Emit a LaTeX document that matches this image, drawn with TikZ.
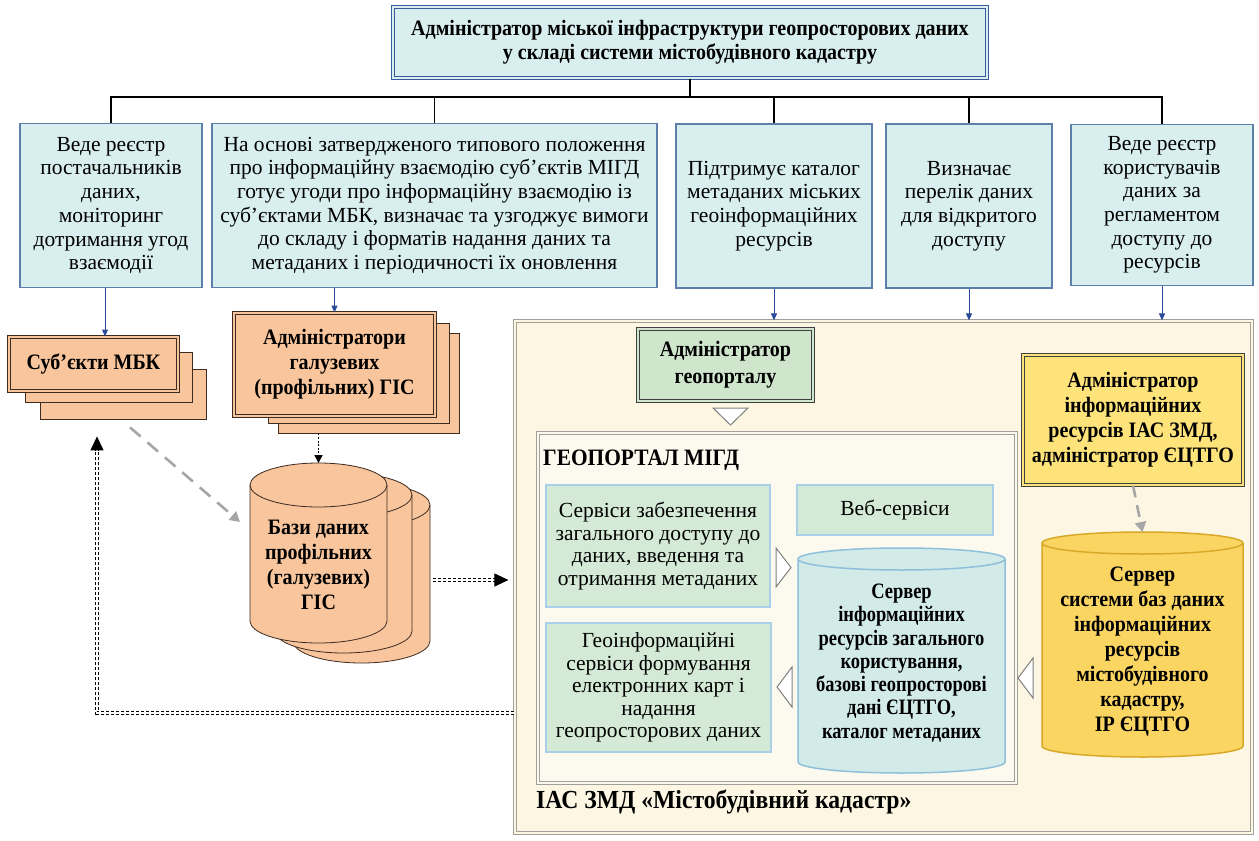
\documentclass[tikz,border=0pt]{standalone}
\usepackage{fontspec}
\setmainfont{Liberation Serif}
\newfontfamily\narrowbf{Liberation Serif}[FakeStretch=0.91]
\newfontfamily\narrowerbf{Liberation Serif}[FakeStretch=0.84]
\usepackage{xcolor}
\usetikzlibrary{arrows.meta,calc}

\definecolor{cyanfill}{HTML}{D9EEEE}
\definecolor{boxblue}{HTML}{5C80A8}
\definecolor{topblue}{HTML}{3A5AA0}
\definecolor{arrowblue}{HTML}{2A4A9A}
\definecolor{peach}{HTML}{F8C59C}
\definecolor{brown}{HTML}{3D2A20}
\definecolor{cream}{HTML}{FCF6E2}
\definecolor{paper}{HTML}{FCF9EE}
\definecolor{frame}{HTML}{A0A09A}
\definecolor{mint}{HTML}{D4EAD6}
\definecolor{skyline}{HTML}{A8D0E8}
\definecolor{aqua}{HTML}{D2EBE8}
\definecolor{aquaedge}{HTML}{8EC0DC}
\definecolor{lemon}{HTML}{FDE37A}
\definecolor{gold}{HTML}{FBD561}
\definecolor{goldedge}{HTML}{D8A928}
\definecolor{sage}{HTML}{CFE5CC}

% name, style, centre x, top y, half width, height, end radius
\newcommand{\drum}[7]{%
	\filldraw[#2] (#3-#5,#4+#7) -- (#3-#5,#4+#6-#7) arc[start angle=180,end angle=0,x radius=#5,y radius=#7] -- (#3+#5,#4+#7) arc[start angle=0,end angle=-180,x radius=#5,y radius=#7] -- cycle;
	\draw[#2, fill=none] (#3-#5,#4+#7) arc[start angle=180,end angle=0,x radius=#5,y radius=#7];
	\node[minimum width=2*#5, minimum height=#6, inner sep=0pt, outer sep=0pt] (#1) at (#3,#4+#6/2) {};
}

\tikzset{
	txt/.style={font=\fontsize{21.5}{23.7}\selectfont, align=center, inner sep=2pt},
	btxt/.style={align=center, inner sep=2pt, font={\narrowbf\bfseries\fontsize{22}{25}\selectfont}},
	topbox/.style={btxt, font={\narrowbf\bfseries\fontsize{22}{24}\selectfont}, draw=topblue, fill=cyanfill, line width=1.2pt, double=cyanfill, double distance=1.8pt},
	taskbox/.style={txt, draw=boxblue, fill=cyanfill, line width=1.2pt},
	peachbox/.style={btxt, draw=brown, fill=peach, line width=1pt, double=peach, double distance=1.8pt},
	peachback/.style={draw=brown, fill=peach, line width=0.8pt},
	peachdrum/.style={draw=brown, fill=peach, line width=0.8pt},
	coredrum/.style={draw=aquaedge, fill=aqua, line width=1.5pt},
	golddrum/.style={draw=goldedge, fill=gold, line width=1.5pt},
	mintbox/.style={txt, font=\fontsize{21.5}{22.5}\selectfont, draw=skyline, fill=mint, line width=1.5pt},
	admbox/.style={btxt, draw=black!75, line width=1pt, double distance=1.8pt},
	framebox/.style={draw=frame, line width=1.2pt, double distance=1.8pt},
	link/.style={arrowblue, line width=1pt, -{Triangle[length=7pt,width=6pt]}},
	tree/.style={black, line width=1.6pt},
	grayarrow/.style={gray!70, line width=2.6pt, dash pattern=on 14pt off 9pt, -{Triangle[length=10pt,width=11pt]}},
	dotarrow/.style={black, line width=1.6pt, dash pattern=on 2pt off 1.6pt, -{Triangle[length=8pt,width=8pt]}},
	dblarrow/.style={black, line width=1.1pt, double=white, double distance=1.6pt, dash pattern=on 3pt off 2pt, -{Triangle[length=14pt,width=13pt]}},
	opentri/.style={draw=gray, fill=white, line width=1pt, line join=miter}
}

\begin{document}
\begin{tikzpicture}[x=1pt,y=-1pt]
	\useasboundingbox (0,0) rectangle (1259,841);
	\fill[white] (0,0) rectangle (1259,841);
	\node[topbox, minimum width=594, minimum height=71] (top) at (690,42.5) {Адміністратор міської інфраструктури геопросторових даних\\у складі системи містобудівного кадастру};
	\node[taskbox, minimum width=182, minimum height=164] (t1) at (111,205.5) {Веде реєстр\\постачальників\\даних,\\моніторинг\\дотримання угод\\взаємодії};
	\node[taskbox, minimum width=445, minimum height=164] (t2) at (434.5,205.5) {На основі затвердженого типового положення\\про інформаційну взаємодію суб’єктів МІГД\\готує угоди про інформаційну взаємодію із\\суб’єктами МБК, визначає та узгоджує вимоги\\до складу і форматів надання даних та\\метаданих і періодичності їх оновлення};
	\node[taskbox, minimum width=196, minimum height=164] (t3) at (774,206) {Підтримує каталог\\метаданих міських\\геоінформаційних\\ресурсів};
	\node[taskbox, minimum width=166, minimum height=164] (t4) at (969,206) {Визначає\\перелік даних\\для відкритого\\доступу};
	\node[taskbox, minimum width=182, minimum height=161] (t5) at (1162,205) {Веде реєстр\\користувачів\\даних за\\регламентом\\доступу до\\ресурсів};
	\draw[tree] (top.south) -- (top.south |- 0,97);
	\draw[tree] (t1.north) |- (t5.north |- 0,97) -- (t5.north);
	\foreach \n in {t2,t3,t4}
		\draw[tree] (\n.north) -- (\n.north |- 0,97);

	\node[peachback, minimum width=166, minimum height=50] (sub3) at (123,394) {};
	\node[peachback, minimum width=167, minimum height=50] (sub2) at (108.5,377) {};
	\node[peachbox, minimum width=169, minimum height=54] (sub1) at (93.5,364) {Суб’єкти МБК};
	\node[peachback, minimum width=181, minimum height=100] (adm3) at (368.5,383) {};
	\node[peachback, minimum width=181, minimum height=100] (adm2) at (358.5,373) {};
	\node[peachbox, minimum width=201, minimum height=103] (adm1) at (334.5,364.5) {Адміністратори\\галузевих\\(профільних) ГІС};
	\drum{dbb3}{peachdrum}{361.5}{483}{68.5}{180}{22}
	\drum{dbb2}{peachdrum}{343.5}{473}{68.5}{180}{22}
	\drum{dbb1}{peachdrum}{318.5}{463}{68.5}{180}{22}
	\node[btxt] (dbbtext) at (318.5,565) {Бази даних\\профільних\\(галузевих)\\ГІС};

	\draw[link] ([xshift=-6pt]t1.south) -- ([xshift=-6pt]t1.south |- sub1.north);
	\draw[link] (t2.south -| adm1.north) -- (adm1.north);
	\draw[dotarrow] (dbb1.north |- adm3.south) -- (dbb1.north);
	\draw[grayarrow] ([xshift=7pt,yshift=-8pt]sub3.south) -- ($(dbb1.west)+(-10,-31)$);

	\node[framebox, fill=cream, double=cream, minimum width=737, minimum height=512] (iac) at (883.5,577) {};
	\node[framebox, fill=paper, double=paper, minimum width=478, minimum height=350] (portal) at (777,608) {};
	\node[btxt, font={\narrowbf\bfseries\fontsize{23.5}{25}\selectfont}, anchor=west] (portaltitle) at (541,460) {ГЕОПОРТАЛ МІГД};
	\node[btxt, font={\narrowbf\bfseries\fontsize{26}{28}\selectfont}, anchor=west] (iactitle) at (534,802) {ІАС ЗМД «Містобудівний кадастр»};
	\node[admbox, font={\narrowbf\bfseries\fontsize{22}{27}\selectfont}, fill=sage, double=sage, minimum width=175, minimum height=72] (geoadm) at (725.5,365) {Адміністратор\\геопорталу};
	\node[mintbox, minimum width=224, minimum height=122] (srv1) at (658,546) {Сервіси забезпечення\\загального доступу до\\даних, введення та\\отримання метаданих};
	\node[mintbox, minimum width=196, minimum height=50] (web) at (895,510) {Веб-сервіси};
	\node[mintbox, minimum width=225, minimum height=129] (srv2) at (658.5,687.5) {Геоінформаційні\\сервіси формування\\електронних карт і\\надання\\геопросторових даних};
	\drum{core}{coredrum}{901.5}{548}{103.5}{225}{11}
	\node[btxt, font={\narrowerbf\bfseries\fontsize{22}{23.3}\selectfont}] (coretext) at (901.5,663) {Сервер\\інформаційних\\ресурсів загального\\користування,\\базові геопросторові\\дані ЄЦТГО,\\каталог метаданих};
	\node[admbox, fill=lemon, double=lemon, minimum width=220, minimum height=130] (yadm) at (1133,420) {Адміністратор\\інформаційних\\ресурсів ІАС ЗМД,\\адміністратор ЄЦТГО};
	\drum{ycyl}{golddrum}{1142.5}{532}{100.5}{225}{11}
	\node[btxt] (ycyltext) at (1142.5,652) {Сервер\\системи баз даних\\інформаційних\\ресурсів\\містобудівного\\кадастру,\\ІР ЄЦТГО};

	\draw[opentri] (713,408) -- (748,408) -- (730.5,425) -- cycle;
	\draw[opentri] (776,548) -- (791,567.5) -- (776,587) -- cycle;
	\draw[opentri] (792,667) -- (777,687) -- (792,707) -- cycle;
	\draw[opentri] (1033,658) -- (1018,678) -- (1033,698) -- cycle;

	\foreach \n in {t3,t4,t5}
		\draw[link] (\n.south) -- (\n.south |- iac.north);
	\draw[grayarrow, dash pattern=on 12pt off 8pt] (yadm.south) -- (ycyl.north);
	\draw[dblarrow] ([xshift=3pt]dbb3.east |- 0,580) -- ([xshift=-6pt]iac.west |- 0,580);
	\draw[dblarrow] (iac.west |- 0,713) -| ($(sub3.south -| 97,0)+(0,17)$);
\end{tikzpicture}
\end{document}
